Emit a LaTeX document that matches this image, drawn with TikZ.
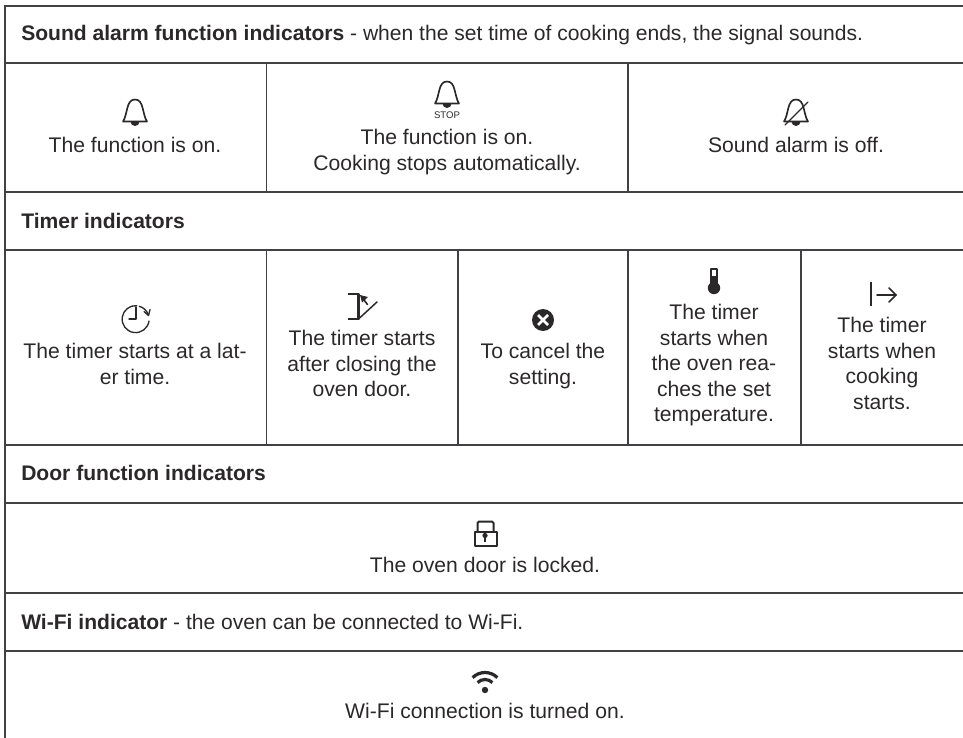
\documentclass[tikz,border=0pt]{standalone}
\usepackage{fontspec}
\setmainfont{Liberation Sans}
\usetikzlibrary{arrows.meta}
\definecolor{ink}{HTML}{2B2829}
\definecolor{rule}{HTML}{414042}
\newcommand{\cellrows}[1]{\begin{tabular}[t]{@{}c@{}}#1\end{tabular}}
\tikzset{
  x=0.75pt,y=-0.75pt,
  hrule/.style={draw=rule,line width=1.35pt},
  vrule/.style={draw=rule,line width=1.0pt},
  cell/.style={anchor=base,inner sep=0pt,text=ink,font=\fontsize{15.85}{19.1}\selectfont},
  head/.style={anchor=base west,inner sep=0pt,text=ink,font=\fontsize{15.8}{19.1}\selectfont},
  icon/.style={draw=ink,line width=1.25pt,line cap=round,line join=round},
  bell/.pic={
    \draw[icon] (-12,0) -- (12,0) .. controls (7,-8) and (9,-22) .. (0,-22) .. controls (-9,-22) and (-7,-8) .. (-12,0) -- cycle;
    \fill[ink] (-4.5,0) arc[start angle=180,end angle=0,x radius=4.5,y radius=4.5] -- cycle;
  }
}
\begin{document}
\begin{tikzpicture}
\useasboundingbox (0,0) rectangle (963,738);
% table rules
\foreach \yy in {6,63,192,250,445,503,593,651} \draw[hrule] (4.5,\yy) -- (963,\yy);
\draw[vrule] (5,5) -- (5,738);
\draw[vrule] (266.5,63) -- (266.5,192);
\draw[vrule] (628,63) -- (628,192);
\draw[vrule] (266.5,250) -- (266.5,445);
\draw[vrule] (458,250) -- (458,445);
\draw[vrule] (628,250) -- (628,445);
\draw[vrule] (801,250) -- (801,445);
% headers
\node[head] (hsound) at (21,40.7) {\textbf{Sound alarm function indicators} - when the set time of cooking ends, the signal sounds.};
\node[head] (htimer) at (21,228.7) {\textbf{Timer indicators}};
\node[head] (hdoor) at (21,480.7) {\textbf{Door function indicators}};
\node[head] (hwifi) at (21,629.7) {\textbf{Wi-Fi indicator} - the oven can be connected to Wi-Fi.};
% sound row
\pic at (135,121.5) {bell};
\node[cell] (s1) at (135,152.7) {The function is on.};
\pic at (447,103.5) {bell};
\node[anchor=base,inner sep=0pt,text=ink,font=\fontsize{7.2}{8}\selectfont] (stop) at (447,119) {STOP};
\node[cell] (s2) at (447,144.7) {\cellrows{The function is on.\\Cooking stops automatically.}};
\pic at (796,121.5) {bell};
\draw[icon,line width=1pt] (785,125) -- (808,102);
\node[cell] (s3) at (796,152.7) {Sound alarm is off.};
% timer row
\draw[icon,line width=1pt] (148,314) arc[start angle=-22,end angle=-75,radius=13];
\draw[icon,line width=1pt] (149,321) arc[start angle=8,end angle=275,radius=13.5];
\draw[icon,line width=1pt] (136,307) -- (136,319) -- (129,319);
\draw[icon,line width=1pt] (144,311.5) -- (148.5,315.5) -- (150,309.5);
\node[cell] (t1) at (135,358.7) {\cellrows{The timer starts at a lat-\\er time.}};
\draw[icon,line width=1.6pt,line cap=butt] (348,294) -- (358.5,294) -- (358.5,319) -- (348,319);
\draw[icon,line width=1.1pt] (358.5,319) -- (377,302);
\draw[icon,line width=1.2pt] (367.5,304.5) -- (362,297.5);
\fill[ink] (360,295) -- (368,297) -- (362,302.5) -- cycle;
\node[cell] (t2) at (362,345.7) {\cellrows{The timer starts\\after closing the\\oven door.}};
\fill[ink] (543,320) circle[radius=11];
\draw[white,line width=2pt] (538,315) -- (548,325) (538,325) -- (548,315);
\node[cell] (t3) at (543,358.7) {\cellrows{To cancel the\\setting.}};
\draw[icon,line width=1.3pt,line cap=butt] (711,284) -- (711,269) -- (717,269) -- (717,284);
\fill[ink] (714,288) circle[radius=6.2];
\fill[ink] (711,276) rectangle (717,284);
\node[cell] (t4) at (714,319.7) {\cellrows{The timer\\starts when\\the oven rea-\\ches the set\\temperature.}};
\draw[icon,line width=1.25pt,line cap=butt] (871,282) -- (871,306);
\draw[icon,line width=1.25pt] (877,295) -- (896,295);
\draw[icon,line width=1.25pt] (889,288) -- (896,295) -- (889,302);
\node[cell] (t5) at (882,332.7) {\cellrows{The timer\\starts when\\cooking\\starts.}};
% door row
\draw[icon,line width=1.5pt] (474.5,531.5) rectangle (496.5,545.5);
\draw[icon,line width=1.5pt] (477.5,531) -- (477.5,523) -- (479,521.5) -- (492,521.5) -- (493.5,523) -- (493.5,531);
\fill[ink] (485,535.5) circle[radius=2.6];
\fill[ink] (484,536) rectangle (486,541.5);
\node[cell] (d1) at (485,572.7) {The oven door is locked.};
% wifi row
\fill[ink] (485,690) circle[radius=3.2];
\draw[draw=ink,line width=2.4pt] (485,690) ++(-135:17.5) arc[start angle=-135,end angle=-45,radius=17.5];
\draw[draw=ink,line width=2.4pt] (485,690) ++(-135:10.5) arc[start angle=-135,end angle=-45,radius=10.5];
\node[cell] (w1) at (485,718.7) {Wi-Fi connection is turned on.};
\end{tikzpicture}
\end{document}
